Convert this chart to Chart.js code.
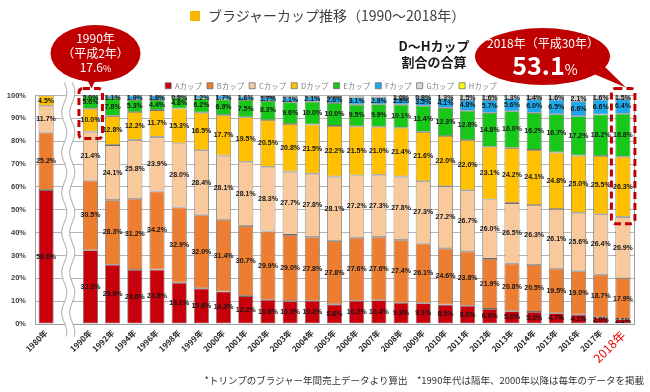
<!DOCTYPE html>
<html><head><meta charset="utf-8">
<script src="https://cdn.jsdelivr.net/npm/chart.js@4/dist/chart.umd.min.js"></script>
<style>
html,body{margin:0;padding:0;background:#fff;}
#wrap{position:relative;width:650px;height:392px;overflow:hidden;font-family:"Noto Sans CJK JP","Noto Sans",sans-serif;}
#c{position:absolute;left:0;top:0;}
.t{position:absolute;white-space:nowrap;line-height:1;}
</style></head><body>
<div id="wrap">
<canvas id="c" width="650" height="392"></canvas>
<div class="t" style="left:190px;top:8px;font-size:14px;color:#404040;"><span style="display:inline-block;width:10px;height:10px;background:#f5b800;margin-right:8px;vertical-align:0px"></span>ブラジャーカップ推移（1990〜2018年）</div>
<div class="t" style="left:50px;top:31px;width:91px;text-align:center;font-size:12px;line-height:14.5px;color:#fff;">1990年<br>（平成2年）<br>17.6<span style="font-size:9px">%</span></div>
<div class="t" style="left:475px;top:37px;width:136px;text-align:center;font-size:12px;color:#fff;">2018年（平成30年）</div>
<div class="t" style="left:475px;top:52px;width:140px;text-align:center;font-size:25px;font-weight:bold;color:#fff;">53.1<span style="font-size:14px;font-weight:normal">%</span></div>
<div class="t" style="left:384px;top:38px;width:100px;text-align:center;font-size:13px;line-height:16px;font-weight:bold;color:#1a1a1a;">D〜Hカップ<br>割合の合算</div>
<div class="t" style="right:6px;top:376px;font-size:9.5px;color:#333;">*トリンプのブラジャー年間売上データより算出　*1990年代は隔年、2000年以降は毎年のデータを掲載</div>
</div>
<script>
const categories = ['1980年','', '1990年','1992年','1994年','1996年','1998年','1999年','2000年','2001年','2002年','2003年','2004年','2005年','2006年','2007年','2008年','2009年','2010年','2011年','2012年','2013年','2014年','2015年','2016年','2017年','2018年'];
const cupA = [58.6,null,32.3,25.9,23.6,23.8,18.1,15.6,14.2,12.2,10.6,10.0,10.2,8.6,10.2,10.4,9.3,9.1,8.5,8.0,6.6,5.6,5.3,4.7,4.1,2.9,2.1];
const cupB = [25.2,null,30.5,28.3,31.2,34.2,32.9,32.0,31.4,30.7,29.9,29.0,27.8,27.8,27.6,27.6,27.4,26.1,24.6,23.8,21.9,20.8,20.5,19.5,19.0,18.7,17.9];
const cupC = [11.7,null,21.4,24.1,25.8,23.9,28.0,28.4,28.1,28.1,28.3,27.7,27.8,28.1,27.2,27.3,27.8,27.3,27.2,26.7,26.0,26.5,26.3,26.1,25.6,26.4,26.9];
const cupD = [4.5,null,10.0,12.8,12.2,11.7,15.3,16.5,17.7,19.5,20.5,20.8,21.5,22.2,21.5,21.0,21.4,21.6,22.0,22.0,23.1,24.2,24.1,24.8,25.0,25.5,26.3];
const cupE = [0,null,5.6,7.8,5.3,4.4,4.8,6.2,6.9,7.5,8.3,9.6,10.0,10.0,9.5,9.9,10.1,11.4,12.3,12.8,14.8,16.0,16.2,16.7,17.2,18.2,18.8];
const cupF = [0,null,2.0,1.1,1.9,1.8,0.8,1.2,1.7,1.6,1.7,2.1,2.1,2.6,3.1,2.8,2.8,3.5,4.1,4.8,5.7,5.6,6.0,6.5,6.6,6.6,6.4];
const cupG = [0,null,0,0,0,0,0,0,0,0.4,0.7,0.8,0.6,0.7,0.9,1.0,1.0,0.8,1.3,1.5,1.6,1.3,1.4,1.6,2.1,1.6,1.5];
const cupH = [0,null,0,0,0,0,0,0,0,0,0,0,0,0,0,0,0,0,0,0.4,0.3,0,0.2,0,0.4,0,0.1];
const cupNames = ['Aカップ','Bカップ','Cカップ','Dカップ','Eカップ','Fカップ','Gカップ','Hカップ'];
const yTicks = [0,10,20,30,40,50,60,70,80,90,100];
const highlightIdx = [2, 26];

const series = [cupA,cupB,cupC,cupD,cupE,cupF,cupG,cupH];
const colors = ['#c8000b','#ed7d31','#f9c99c','#ffc000','#18c818','#1ea8ec','#d9d9d9','#ffff00'];
const JP = "'Noto Sans CJK JP','Noto Sans',sans-serif";
Chart.defaults.font.family = JP;

const labelPlugin = {
  id:'segLabels',
  afterDatasetsDraw(chart){
    const ctx = chart.ctx, ca = chart.chartArea;
    ctx.save();
    ctx.font = "bold 7px 'Liberation Sans',Arial,sans-serif";
    ctx.fillStyle = '#151515';
    ctx.textAlign = 'center'; ctx.textBaseline = 'middle';
    chart.data.datasets.forEach((ds, di) => {
      if (di === 7) return;
      chart.getDatasetMeta(di).data.forEach((el, i) => {
        const v = ds.data[i];
        if (v == null || v <= 0) return;
        if (di === 6 && categories[i] < '2008') return;
        let y = (el.y + el.base) / 2;
        y = Math.max(y, ca.top + 3);
        ctx.fillText(v.toFixed(1) + '%', el.x, y);
      });
    });
    ctx.restore();
  }
};

const decoPlugin = {
  id:'deco',
  afterLayout(chart){
    const lg = chart.legend;
    if (lg) { lg.top += 4; lg.bottom += 4; lg.left += 14; lg.right += 14; }
  },
  afterDraw(chart){
    const ctx = chart.ctx, ca = chart.chartArea;
    const xs = chart.scales.x, ys = chart.scales.y;
    ctx.save();
    // right border
    ctx.strokeStyle = '#a0a0a0'; ctx.lineWidth = 1;
    ctx.beginPath(); ctx.moveTo(Math.round(ca.right)+0.5, ca.top); ctx.lineTo(Math.round(ca.right)+0.5, ca.bottom); ctx.stroke();
    // wavy break
    const cx = xs.getPixelForValue(1);
    const y0 = ca.top - 13, y1 = ca.bottom + 13, amp = 2.5, per = 40;
    const wx = (y, off) => cx + off + amp * Math.sin((y - y0) / per * 2 * Math.PI);
    ctx.beginPath();
    for (let y = y0; y <= y1; y++) ctx.lineTo(wx(y, -4), y);
    for (let y = y1; y >= y0; y--) ctx.lineTo(wx(y, 4), y);
    ctx.closePath(); ctx.fillStyle = '#fff'; ctx.fill();
    ctx.strokeStyle = '#9a9a9a'; ctx.lineWidth = 1;
    [-4, 4].forEach(off => {
      ctx.beginPath();
      for (let y = y0; y <= y1; y++) { if (y === y0) ctx.moveTo(wx(y, off), y); else ctx.lineTo(wx(y, off), y); }
      ctx.stroke();
    });
    // dashed highlight boxes
    ctx.strokeStyle = '#c00000'; ctx.lineWidth = 3; ctx.setLineDash([7,4]);
    highlightIdx.forEach(i => {
      const x = xs.getPixelForValue(i);
      const abc = cupA[i] + cupB[i] + cupC[i];
      const top = ca.top - 7, bot = ys.getPixelForValue(abc) + 7;
      ctx.beginPath(); ctx.roundRect(x - 11.5, top, 23.5, bot - top, 4); ctx.stroke();
    });
    ctx.setLineDash([]);
    // bubbles
    ctx.fillStyle = '#c00000';
    const x1990 = xs.getPixelForValue(2);
    ctx.beginPath(); ctx.ellipse(95.5, 53.5, 45, 28.5, 0, 0, Math.PI*2); ctx.fill();
    ctx.beginPath(); ctx.moveTo(x1990 - 4, 78); ctx.lineTo(x1990 + 6, 78); ctx.lineTo(x1990 + 1, ca.top - 7); ctx.closePath(); ctx.fill();
    const x2018 = xs.getPixelForValue(26);
    ctx.beginPath(); ctx.ellipse(542.5, 56.5, 67.5, 28.5, 0, 0, Math.PI*2); ctx.fill();
    ctx.beginPath(); ctx.moveTo(594, 74); ctx.lineTo(604, 66); ctx.lineTo(x2018 + 3, ca.top - 8); ctx.closePath(); ctx.fill();
    ctx.restore();
  }
};

new Chart(document.getElementById('c'), {
  type:'bar',
  data:{
    labels: categories,
    datasets: series.map((d,i)=>({
      label: cupNames[i], data: d, backgroundColor: colors[i],
      borderColor:'#6e6e6e', borderWidth:0.8, borderSkipped:false,
      barPercentage:0.68, categoryPercentage:1
    }))
  },
  options:{
    responsive:false, animation:false, devicePixelRatio:1,
    layout:{padding:{top:73,right:16,bottom:0,left:0}},
    plugins:{
      legend:{position:'top', align:'center',
        labels:{boxWidth:6, boxHeight:6, padding:5, color:'#7f7f7f', font:{size:7.5, family:JP}}},
      tooltip:{enabled:false}
    },
    scales:{
      x:{stacked:true,
        grid:{display:false, drawTicks:false},
        border:{display:true, color:'#a0a0a0'},
        ticks:{autoSkip:false, maxRotation:45, minRotation:45, padding:4,
          color:(c)=> c.index === 26 ? '#e00000' : '#262626',
          font:(c)=> c.index === 26 ? {size:12, family:JP} : {size:8, weight:'bold', family:JP}},
        afterFit(s){ s.height = 68; }
      },
      y:{stacked:true, min:0, max:100,
        afterBuildTicks(s){ s.ticks = yTicks.map(v=>({value:v})); },
        ticks:{callback:v=>v+'%', color:'#404040', padding:9,
          font:{size:7.5, weight:'bold', family:"'Liberation Sans',Arial,sans-serif"}},
        grid:{color:'#b4b4b4', drawTicks:false},
        border:{color:'#a0a0a0'},
        afterFit(s){ s.width = 35; }
      }
    }
  },
  plugins:[labelPlugin, decoPlugin]
});
</script>
</body></html>
